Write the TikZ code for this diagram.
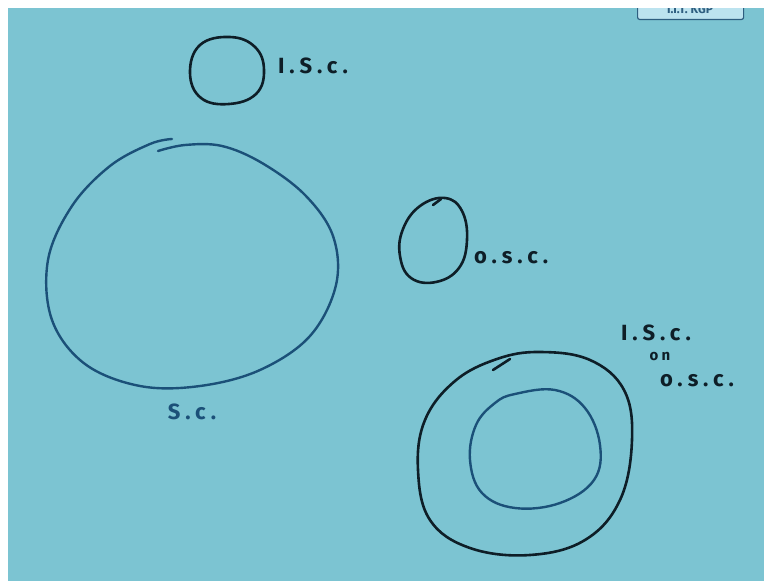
\documentclass[tikz,border=0pt]{standalone}
\usepackage{fontspec}
\setmainfont{Fira Sans}
\newfontfamily\hand[LetterSpace=22]{Fira Sans}
\definecolor{board}{HTML}{7CC4D2}
\definecolor{ink}{HTML}{0E1E27}
\definecolor{blueink}{HTML}{1B5078}
\definecolor{tagfill}{HTML}{BCE3EF}
\definecolor{tagink}{HTML}{2E5E80}
\tikzset{
  stroke/.style={line width=2.6pt, line cap=round, line join=round, draw=ink},
  bstroke/.style={line width=2.4pt, line cap=round, line join=round, draw=blueink},
  lab/.style={font=\hand\bfseries\fontsize{22}{23}\selectfont, text=ink, inner sep=0pt},
  blab/.style={lab, text=blueink},
}
\begin{document}
\begin{tikzpicture}[x=1pt,y=-1pt]
\useasboundingbox (0,0) rectangle (764,581);
\fill[white] (0,0) rectangle (764,581);
\fill[board] (8,8) rectangle (764,581);
\begin{scope}
\clip (8,8) rectangle (764,581);
% tag
\node[draw=tagink, line width=1.2pt, fill=tagfill, rounded corners=2pt, minimum width=106pt, minimum height=24pt, anchor=south west, inner sep=0pt] (tag) at (637,20) {};
\node[text=tagink, font=\bfseries\fontsize{12}{12}\selectfont, anchor=base] (tagtext) at (690,13) {I.I.T. KGP};
\end{scope}
% small I.S.C. circle
\draw[stroke] plot[smooth cycle, tension=0.7] coordinates {(200,45) (230,37) (255,47) (264,70) (256,94) (229,104) (201,98) (190,73)};
\node[lab, anchor=west] (isc) at (278,66) {I.S.c.};
% big S.C. circle
\draw[bstroke] plot[smooth, tension=0.6] coordinates {(172,139) (150,144) (110,166) (72,206) (48,260) (52,320) (85,364) (140,386) (200,386) (260,370) (310,336) (336,285) (333,236) (305,195) (262,163) (222,146) (185,145) (158,151)};
\node[blab] (sc) at (192,412) {S.c.};
% O.S.C. circle
\draw[stroke] plot[smooth cycle, tension=0.7] coordinates {(420,206) (445,198) (462,211) (467,240) (459,268) (436,282) (411,278) (400,256) (403,229)};
\draw[stroke] (433,205) -- (441,199);
\node[lab, anchor=west] (osc) at (474,258) {o.s.c.};
% outer circle
\draw[stroke] plot[smooth cycle, tension=0.65] coordinates {(497,359) (540,352) (590,360) (624,390) (632,440) (620,500) (585,540) (530,555) (470,548) (430,520) (418,470) (425,420) (455,381)};
\draw[stroke] (493,370) -- (510,359);
% inner circle
\draw[bstroke] plot[smooth cycle, tension=0.65] coordinates {(515,394) (555,390) (585,408) (600,445) (594,480) (560,503) (515,508) (482,493) (470,460) (476,425) (495,403)};
% labels I.S.C. on O.S.C.
\node[lab] (isc2) at (656,333) {I.S.c.};
\node[lab, font=\hand\bfseries\fontsize{15}{16}\selectfont] (on) at (660,357) {on};
\node[lab] (osc2) at (697,381) {o.s.c.};
\end{tikzpicture}
\end{document}
